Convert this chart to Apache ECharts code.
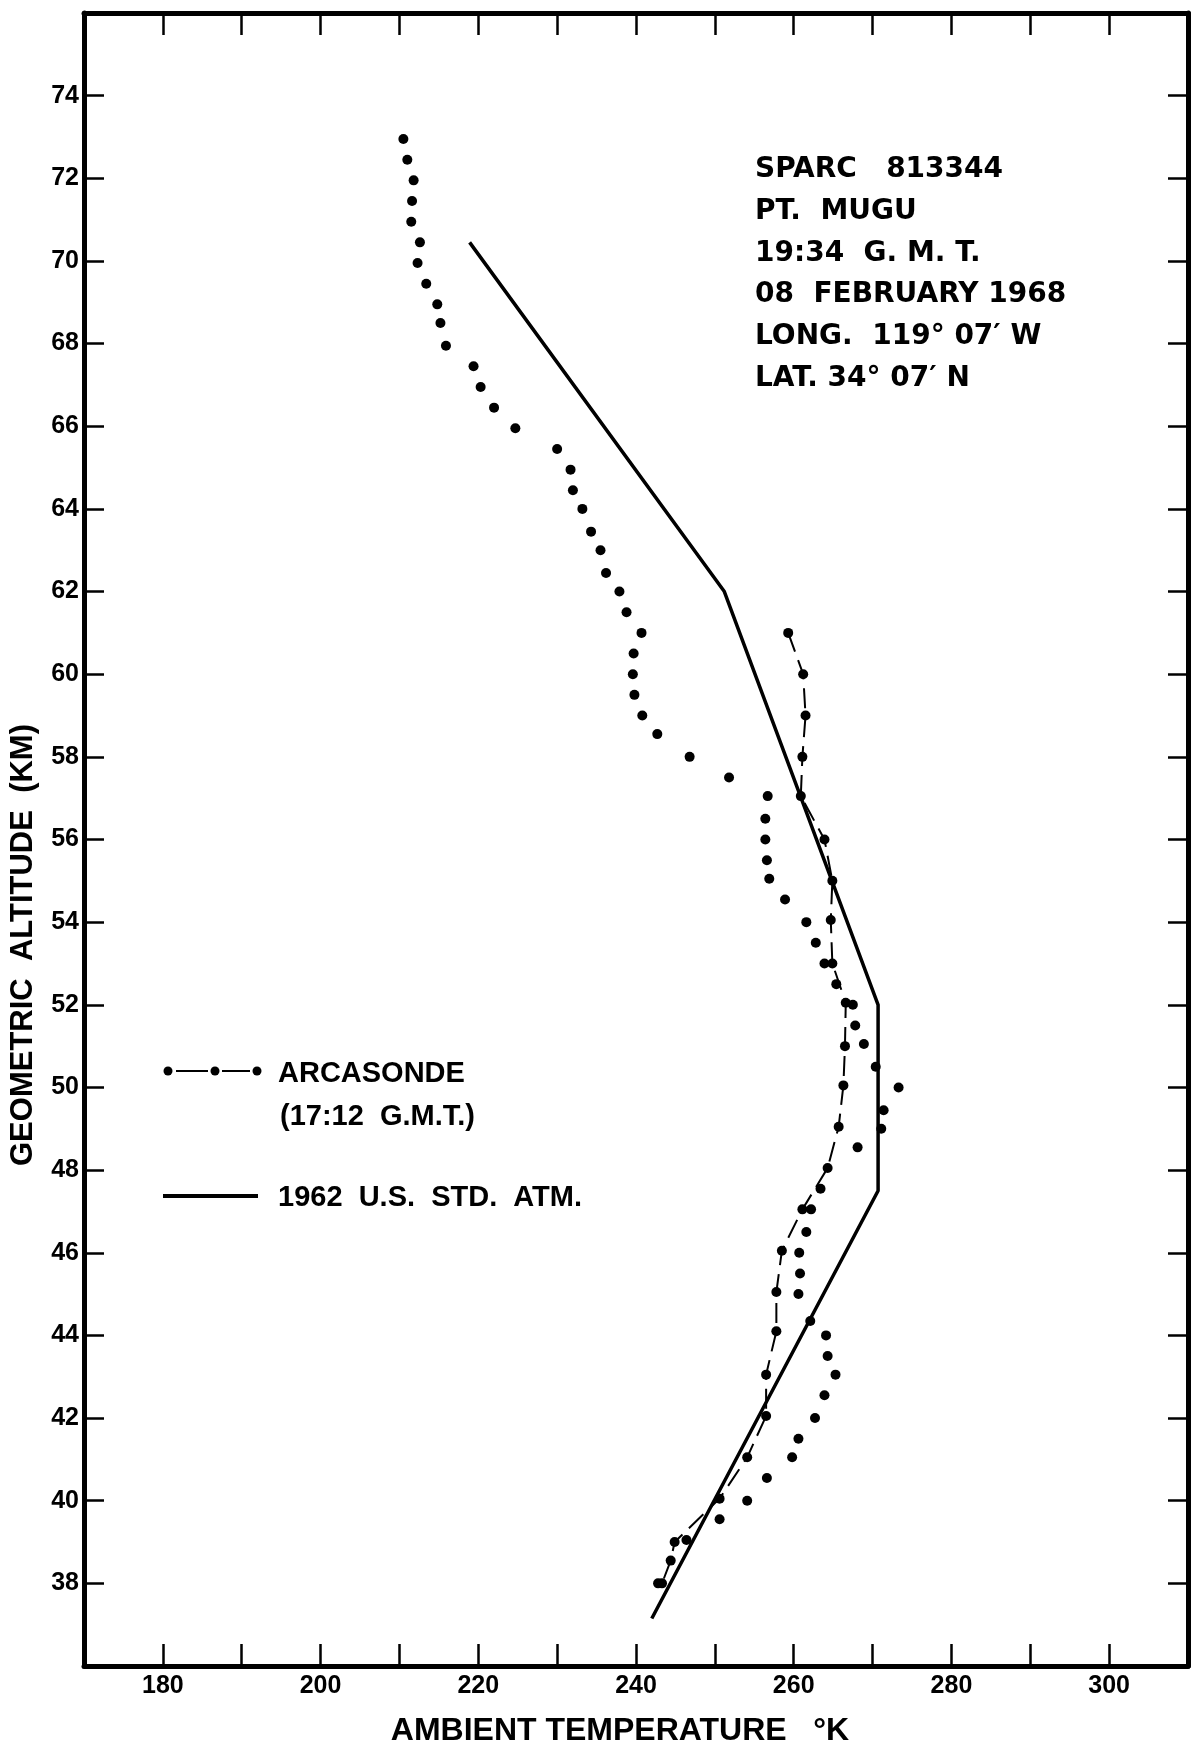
<!DOCTYPE html>
<html>
<head>
<meta charset="utf-8">
<title>SPARC 813344 - Ambient temperature profile</title>
<script src="https://cdn.jsdelivr.net/npm/echarts@6/dist/echarts.min.js"></script>
<style>
  html, body { margin: 0; padding: 0; background: #fff; }
  #chart { width: 1192px; height: 1749px; }
</style>
</head>
<body>
<div id="chart"></div>
<script>
// SPARC 813344 profile, plotted as bare dots (K, km)
const sparcTemp = [210.5, 211.0, 211.8, 211.6, 211.5, 212.6, 212.3, 213.4, 214.8, 215.2,
  215.9, 219.4, 220.3, 222.0, 224.7, 230.0, 231.7, 232.0, 233.2, 234.3,
  235.5, 236.2, 237.9, 238.8, 240.7, 239.7, 239.6, 239.8, 240.8, 242.7,
  246.8, 251.8, 256.7, 256.4, 256.4, 256.6, 256.9, 258.9, 261.6, 262.8,
  263.9, 265.4, 267.5, 267.8, 268.9, 270.4, 273.3, 271.4, 271.1, 268.1,
  263.4, 262.2, 261.6, 260.7, 260.8, 260.6, 262.1, 264.1, 264.3, 265.3,
  263.9, 262.7, 260.6, 259.8, 256.6, 254.1, 250.6, 246.4, 242.8]
const sparcAlt = [72.95, 72.45, 71.95, 71.45, 70.95, 70.45, 69.95, 69.45, 68.95, 68.5,
  67.95, 67.45, 66.95, 66.45, 65.95, 65.45, 64.95, 64.45, 64.0, 63.45,
  63.0, 62.45, 62.0, 61.5, 61.0, 60.5, 60.0, 59.5, 59.0, 58.55,
  58.0, 57.5, 57.05, 56.5, 56.0, 55.5, 55.05, 54.55, 54.0, 53.5,
  53.0, 52.5, 52.0, 51.5, 51.05, 50.5, 50.0, 49.45, 49.0, 48.55,
  47.55, 47.05, 46.5, 46.0, 45.5, 45.0, 44.35, 44.0, 43.5, 43.05,
  42.55, 42.0, 41.5, 41.05, 40.55, 40.0, 39.55, 39.05, 38.0]

// Arcasonde (17:12 G.M.T.), dots joined by a dashed line
const arcaTemp = [259.3, 261.2, 261.5, 261.1, 260.9, 263.9, 264.9, 264.7, 264.9, 266.6,
  266.5, 266.3, 265.7, 264.3, 261.1, 258.5, 257.8, 257.8, 256.5, 256.5,
  254.1, 250.6, 244.9, 244.4, 243.3]
const arcaAlt = [61.0, 60.0, 59.0, 58.0, 57.05, 56.0, 55.0, 54.05, 53.0, 52.05,
  51.0, 50.05, 49.05, 48.05, 47.05, 46.05, 45.05, 44.1, 43.05, 42.05,
  41.05, 40.05, 39.0, 38.55, 38.0]

// 1962 U.S. Standard Atmosphere
const stdTemp = [242.0, 270.7, 270.7, 251.2, 218.9]
const stdAlt = [37.15, 47.5, 52.0, 62.0, 70.45]

// labelled ticks
const tempLabels = [180, 200, 220, 240, 260, 280, 300]
const altLabels = [38, 40, 42, 44, 46, 48, 50, 52, 54, 56, 58, 60, 62, 64, 66, 68, 70, 72, 74]

const infoLines = ['SPARC   813344', 'PT.  MUGU', '19:34  G. M. T.',
  '08  FEBRUARY 1968', 'LONG.  119° 07′ W', 'LAT. 34° 07′ N']

const pairs = (xs, ys) => xs.map((x, i) => [x, ys[i]])

const INK = '#000'
const FONT = '"Liberation Sans", Arial, sans-serif'
const frameLine = { show: true, onZero: false, lineStyle: { color: INK, width: 5 } }
const innerTick = len => ({ show: true, inside: true, length: len, lineStyle: { color: INK, width: 2.5 } })
const tickLabel = (list, margin) => ({
  margin,
  color: INK,
  fontFamily: FONT,
  fontWeight: 'bold',
  fontSize: 25,
  formatter: v => (list.includes(v) ? String(v) : '')
})

const chart = echarts.init(document.getElementById('chart'))

const option = {
  animation: false,
  backgroundColor: '#fff',
  grid: { left: 84, right: 4, top: 13, bottom: 83, containLabel: false },
  xAxis: [
    {
      type: 'value', position: 'bottom', min: 170, max: 310, interval: 10,
      axisLine: frameLine, axisTick: innerTick(22),
      axisLabel: tickLabel(tempLabels, 8),
      splitLine: { show: false }
    },
    {
      type: 'value', position: 'top', min: 170, max: 310, interval: 10,
      axisLine: frameLine, axisTick: innerTick(22),
      axisLabel: { show: false }, splitLine: { show: false }
    }
  ],
  yAxis: [
    {
      type: 'value', position: 'left', min: 36, max: 76, interval: 2,
      axisLine: frameLine, axisTick: innerTick(20),
      axisLabel: tickLabel(altLabels, 5),
      splitLine: { show: false }
    },
    {
      type: 'value', position: 'right', min: 36, max: 76, interval: 2,
      axisLine: frameLine, axisTick: innerTick(20),
      axisLabel: { show: false }, splitLine: { show: false }
    }
  ],
  series: [
    {
      name: 'SPARC 813344',
      type: 'scatter',
      data: pairs(sparcTemp, sparcAlt),
      symbol: 'circle',
      symbolSize: 10,
      itemStyle: { color: INK, opacity: 1 }
    },
    {
      name: 'ARCASONDE',
      type: 'line',
      data: pairs(arcaTemp, arcaAlt),
      symbol: 'circle',
      symbolSize: 10,
      showSymbol: true,
      itemStyle: { color: INK, opacity: 1 },
      lineStyle: { color: INK, width: 2, type: [20, 9] }
    },
    {
      name: '1962 U.S. STD. ATM.',
      type: 'line',
      data: pairs(stdTemp, stdAlt),
      symbol: 'none',
      lineStyle: { color: INK, width: 3.5 }
    }
  ],
  graphic: [
    // axis titles
    {
      type: 'text', x: 620, y: 1731,
      style: { text: 'AMBIENT TEMPERATURE   °K', font: 'bold 32px ' + FONT, fill: INK, textAlign: 'center', textVerticalAlign: 'middle' }
    },
    {
      type: 'text', x: 23, y: 945, rotation: Math.PI / 2,
      style: { text: 'GEOMETRIC  ALTITUDE  (KM)', font: 'bold 31px ' + FONT, fill: INK, textAlign: 'center', textVerticalAlign: 'middle' }
    },
    // flight info block
    ...infoLines.map((t, i) => ({
      type: 'text', x: 755, y: 170 + i * 41.7,
      style: { text: t, font: 'bold 28px "DejaVu Sans", sans-serif', fill: INK, textVerticalAlign: 'middle' }
    })),
    // hand-made legend
    { type: 'line', shape: { x1: 176, y1: 1071, x2: 208, y2: 1071 }, style: { stroke: INK, lineWidth: 2 } },
    { type: 'line', shape: { x1: 222, y1: 1071, x2: 250, y2: 1071 }, style: { stroke: INK, lineWidth: 2 } },
    { type: 'circle', shape: { cx: 168, cy: 1071, r: 4.5 }, style: { fill: INK } },
    { type: 'circle', shape: { cx: 215, cy: 1071, r: 4.5 }, style: { fill: INK } },
    { type: 'circle', shape: { cx: 257, cy: 1071, r: 4.5 }, style: { fill: INK } },
    {
      type: 'text', x: 278, y: 1074,
      style: { text: 'ARCASONDE', font: 'bold 29px ' + FONT, fill: INK, textVerticalAlign: 'middle' }
    },
    {
      type: 'text', x: 280, y: 1117,
      style: { text: '(17:12  G.M.T.)', font: 'bold 29px ' + FONT, fill: INK, textVerticalAlign: 'middle' }
    },
    { type: 'line', shape: { x1: 163, y1: 1196, x2: 258, y2: 1196 }, style: { stroke: INK, lineWidth: 4 } },
    {
      type: 'text', x: 278, y: 1198,
      style: { text: '1962  U.S.  STD.  ATM.', font: 'bold 29px ' + FONT, fill: INK, textVerticalAlign: 'middle' }
    }
  ]
}

chart.setOption(option)
</script>
</body>
</html>
